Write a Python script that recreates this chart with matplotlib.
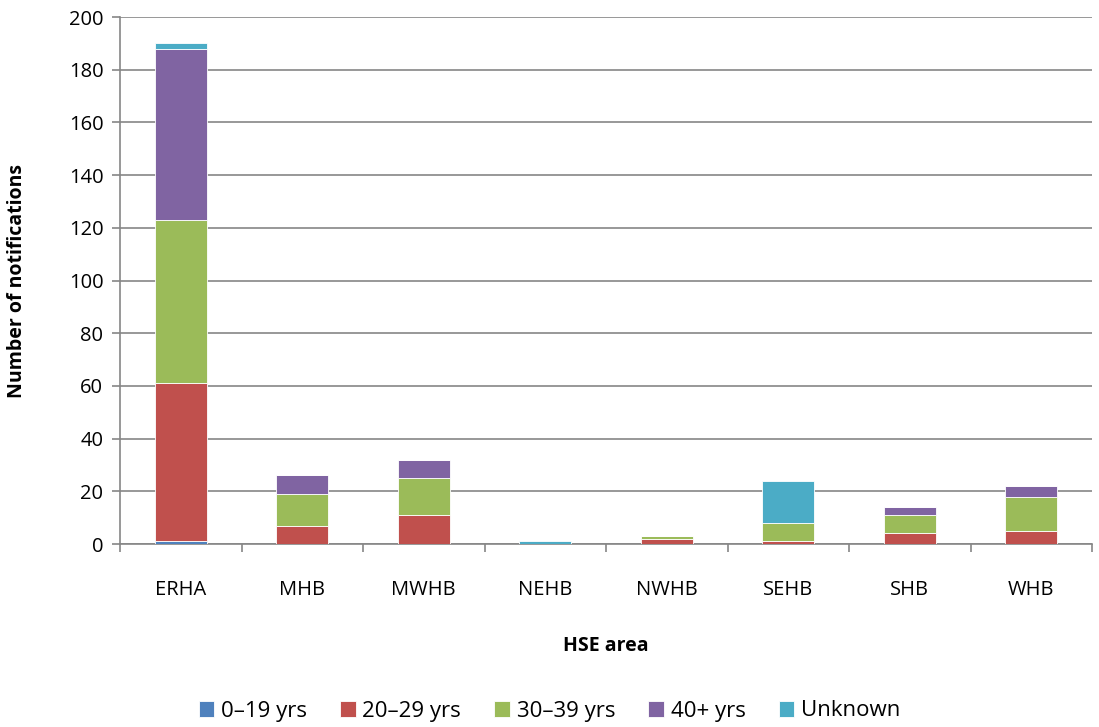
import matplotlib
matplotlib.use("Agg")
import matplotlib.pyplot as plt
import numpy as np

plt.rcParams['font.family'] = ['Open Sans', 'DejaVu Sans']

areas = ["ERHA", "MHB", "MWHB", "NEHB", "NWHB", "SEHB", "SHB", "WHB"]
series_names = ["0\u201319 yrs", "20\u201329 yrs", "30\u201339 yrs", "40+ yrs", "Unknown"]
age_0_19 = [1, 0, 0, 0, 0, 0, 0, 0]
age_20_29 = [60, 7, 11, 0, 2, 1, 4, 5]
age_30_39 = [62, 12, 14, 0, 1, 7, 7, 13]
age_40_plus = [65, 7, 7, 0, 0, 0, 3, 4]
unknown = [2, 0, 0, 1, 0, 16, 0, 0]
colors = ["#4F81BD", "#C0504D", "#9BBB59", "#8064A2", "#4BACC6"]
yticks = [0, 20, 40, 60, 80, 100, 120, 140, 160, 180, 200]

fig = plt.figure(figsize=(10.99, 7.27), dpi=100)
ax = fig.add_axes([120/1099, 1-544/727, (1092-120)/1099, (544-17)/727])

x = np.arange(len(areas))
bottom = np.zeros(len(areas))
for name, vals, c in zip(series_names, [age_0_19, age_20_29, age_30_39, age_40_plus, unknown], colors):
    v = np.array(vals, dtype=float)
    ax.bar(x, v, 0.43, bottom=bottom, color=c, label=name, edgecolor="white", linewidth=0.6, zorder=3)
    bottom += v

ax.set_xlim(-0.5, len(areas)-0.5)
ax.set_ylim(0, 200)
ax.set_yticks(yticks)
ax.set_yticklabels([str(t) for t in yticks], fontsize=14.5)
ax.set_xticks(x)
ax.set_xticklabels(areas, fontsize=14.5)
ax.tick_params(axis='x', length=0, pad=26)
ax.set_xticks(np.arange(-0.5, len(areas)), minor=True)
ax.tick_params(axis='x', which='minor', length=6, color="#868686", width=1.2)
ax.tick_params(axis='y', length=6, color="#868686", width=1.2, pad=6)
ax.grid(axis='y', color="#868686", linewidth=1.2, zorder=0)
for s in ['top', 'right']:
    ax.spines[s].set_visible(False)
for s in ['left', 'bottom']:
    ax.spines[s].set_color("#868686")
    ax.spines[s].set_linewidth(1.2)

ax.set_xlabel("HSE area", fontsize=14, fontweight='bold', labelpad=26)
ax.set_ylabel("Number of notifications", fontsize=14, fontweight='bold', labelpad=30)

handles, labels = ax.get_legend_handles_labels()
fig.legend(handles, labels, loc='center', bbox_to_anchor=(0.5, 1-711/727), ncol=5, frameon=False,
           fontsize=16, handlelength=0.7, handleheight=0.7, handletextpad=0.3, columnspacing=1.5)

fig.savefig("out.png", dpi=100)
